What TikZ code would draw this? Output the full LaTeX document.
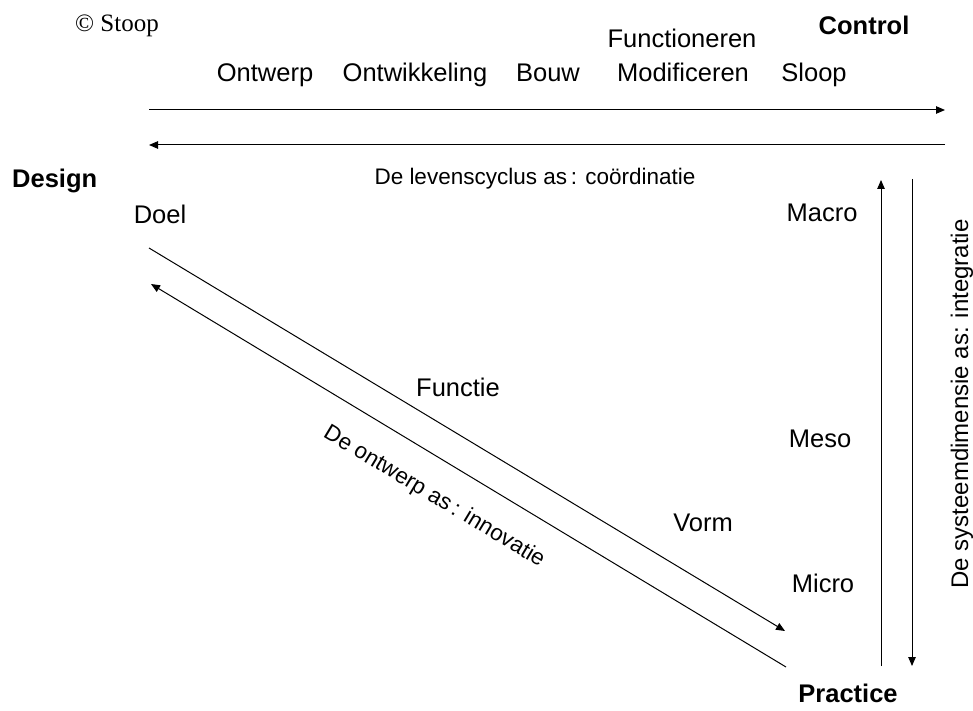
\documentclass[tikz,border=0pt]{standalone}
\usepackage{fontspec}
\setmainfont{Liberation Sans}
\newfontfamily\serifont{Liberation Serif}
\usetikzlibrary{arrows.meta}
\tikzset{
  lbl/.style={font=\fontsize{25.5}{30}\selectfont, inner sep=0pt, anchor=base},
  blbl/.style={font=\fontsize{25.5}{30}\selectfont\bfseries, inner sep=0pt, anchor=base},
  axlbl/.style={font=\fontsize{22.5}{26}\selectfont, inner sep=0pt, anchor=base},
  cpy/.style={font=\fontsize{25}{30}\serifont, inner sep=0pt, anchor=base},
  arr/.style={-{Triangle[length=9pt,width=7.5pt]}, line width=1pt}
}
\begin{document}
\begin{tikzpicture}[x=1pt,y=-1pt]
\useasboundingbox (0,0) rectangle (973,711);
% copyright
\node[cpy] (stoop) at (117,32) {© Stoop};
% lifecycle labels
\node[lbl] (ontwerp) at (265,82) {Ontwerp};
\node[lbl] (ontwikkeling) at (415,82) {Ontwikkeling};
\node[lbl] (bouw) at (548,82) {Bouw};
\node[lbl] (functioneren) at (682,48) {Functioneren};
\node[lbl] (modificeren) at (683,82) {Modificeren};
\node[lbl] (sloop) at (814,82) {Sloop};
\node[blbl] (control) at (864,35) {Control};
% horizontal arrows
\coordinate (h1a) at (149,110);
\coordinate (h1b) at (945,110);
\coordinate (h2a) at (945,145);
\coordinate (h2b) at (149,145);
\draw[arr] (h1a) -- (h1b);
\draw[arr] (h2a) -- (h2b);
\node[axlbl] (lev) at (535,185) {De levenscyclus as\,: coördinatie};
% corners
\node[blbl, anchor=base west] (design) at (12,188) {Design};
\node[blbl] (practice) at (848,702) {Practice};
% left labels
\node[lbl] (doel) at (160,223) {Doel};
\node[lbl] (functie) at (458,396) {Functie};
\node[lbl] (vorm) at (703,531) {Vorm};
% right labels
\node[lbl] (macro) at (822,222) {Macro};
\node[lbl] (meso) at (820,447) {Meso};
\node[lbl] (micro) at (823,592) {Micro};
% diagonal arrows
\coordinate (d1a) at (149,248);
\coordinate (d1b) at (785,631);
\coordinate (d2a) at (786,667);
\coordinate (d2b) at (151,284);
\draw[arr] (d1a) -- (d1b);
\draw[arr] (d2a) -- (d2b);
\node[axlbl, rotate=-31] (ontas) at (431,502) {De ontwerp as\,: innovatie};
% vertical arrows
\coordinate (v1a) at (881,666);
\coordinate (v1b) at (881,180);
\coordinate (v2a) at (912,179);
\coordinate (v2b) at (912,666);
\draw[arr] (v1a) -- (v1b);
\draw[arr] (v2a) -- (v2b);
\node[axlbl, font=\fontsize{24}{28}\selectfont, rotate=90] (sysas) at (968,404) {De systeemdimensie as: integratie};
\end{tikzpicture}
\end{document}
